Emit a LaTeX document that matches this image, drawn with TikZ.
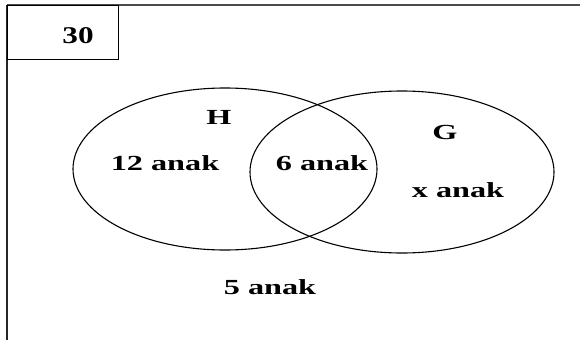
\documentclass[tikz,border=0pt]{standalone}
\usepackage{fontspec}
\setmainfont{Liberation Serif}
\usetikzlibrary{shapes.geometric}
\tikzset{
	setnode/.style={
			ellipse,
			draw=black,
			line width=1.1pt,
			minimum width=304pt,
			minimum height=162pt,
			inner sep=0pt
		},
	labelnode/.style={
			inner sep=0pt,
			font=\fontsize{21.5}{25}\selectfont\bfseries
		},
	totalnode/.style={
			draw=black,
			line width=1.4pt,
			minimum width=111pt,
			minimum height=54pt,
			inner sep=0pt
		}
}
\newcommand{\wide}[1]{\scalebox{1.5}[1]{#1}}

\begin{document}
\begin{tikzpicture}[x=1pt, y=-1pt]
\useasboundingbox (0,0) rectangle (580,340);
% outer frame
\coordinate (c0) at (7,5);
\coordinate (c1) at (580,5);
\coordinate (c2) at (7,340);
\draw[line width=2.2pt, black!70] (c0) -- (c1);
\draw[line width=2.2pt, black!85] (c0) -- (c2);
\node[totalnode, anchor=north west] (s) at (7,5) {};
\node[labelnode, font=\fontsize{24}{28}\selectfont\bfseries] (t) at (78,36) {\scalebox{1.3}[1]{30}};

% sets
\node[setnode] (h) at (225,169) {};
\node[setnode] (g) at (402,172) {};

\node[labelnode] (hn) at (219,117) {\wide{H}};
\node[labelnode] (gn) at (445,132) {\wide{G}};
\node[labelnode] (a1) at (165,163) {\wide{12 anak}};
\node[labelnode] (a2) at (322,163) {\wide{6 anak}};
\node[labelnode] (a3) at (458,190) {\wide{x anak}};
\node[labelnode] (a4) at (270,287) {\wide{5 anak}};
\end{tikzpicture}
\end{document}
